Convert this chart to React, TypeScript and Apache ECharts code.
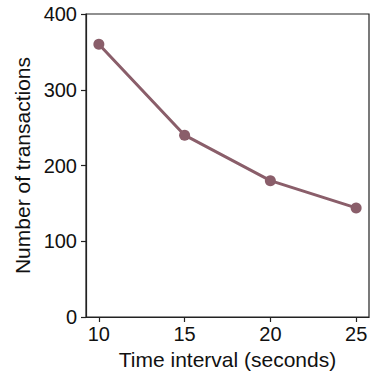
import React, { useEffect, useRef } from "react";
import * as echarts from "echarts";

const intervals = [10, 15, 20, 25];
const transactions = [360, 240, 180, 144];
const xTicks = [10, 15, 20, 25];
const xTitle = "Time interval (seconds)";
const yTitle = "Number of transactions";

export default function App() {
  const ref = useRef<HTMLDivElement>(null);
  useEffect(() => {
    if (!ref.current) return;
    const chart = echarts.init(ref.current, undefined, { renderer: "svg" });
    const font = "Liberation Sans, Arial, Helvetica, sans-serif";
    const axisColor = "#222";
    chart.setOption({
      animation: false,
      backgroundColor: "#fff",
      grid: {
        left: 86,
        right: 7,
        top: 14,
        bottom: 61,
        show: true,
        borderColor: axisColor,
        borderWidth: 1.2,
      },
      xAxis: {
        type: "value",
        min: 9.25,
        max: 25.75,
        name: xTitle,
        nameLocation: "middle",
        nameGap: 27,
        nameTextStyle: { fontFamily: font, fontSize: 21, color: "#111" },
        axisLine: { show: true, onZero: false, lineStyle: { color: axisColor, width: 1.2 } },
        axisTick: { show: true, length: 5, inside: false, customValues: xTicks, lineStyle: { color: axisColor, width: 1.2 } },
        axisLabel: { customValues: xTicks, margin: 7, fontFamily: font, fontSize: 20, color: "#111" },
        splitLine: { show: false },
      },
      yAxis: {
        type: "value",
        min: 0,
        max: 400,
        interval: 100,
        name: yTitle,
        nameLocation: "middle",
        nameGap: 49,
        nameRotate: 90,
        nameTextStyle: { fontFamily: font, fontSize: 21, color: "#111" },
        axisLine: { show: true, lineStyle: { color: axisColor, width: 1.2 } },
        axisTick: { show: true, length: 5, inside: false, lineStyle: { color: axisColor, width: 1.2 } },
        axisLabel: { margin: 9, fontFamily: font, fontSize: 20, color: "#111" },
        splitLine: { show: false },
      },
      series: [
        {
          type: "line",
          data: intervals.map((x, i) => [x, transactions[i]]),
          symbol: "circle",
          symbolSize: 11,
          lineStyle: { color: "#8a5e6a", width: 3 },
          itemStyle: { color: "#8a5e6a" },
        },
      ],
    });
    return () => chart.dispose();
  }, []);
  return (
    <div
      ref={ref}
      style={{ position: "fixed", left: 0, top: 0, width: 376, height: 378 }}
    />
  );
}
